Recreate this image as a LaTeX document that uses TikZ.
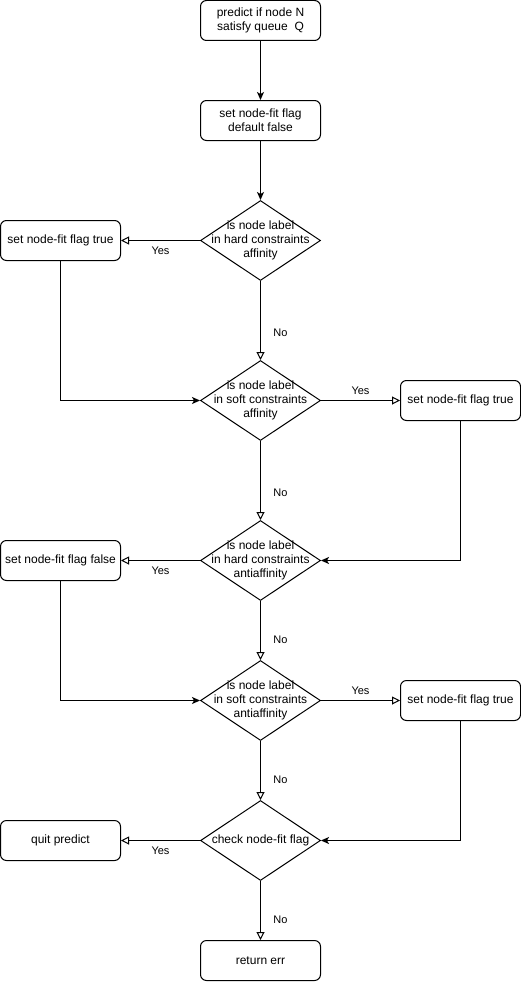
\documentclass[tikz,border=0pt]{standalone}
\usepackage{fontspec}
\setmainfont{Liberation Sans}
\usetikzlibrary{shapes.geometric,arrows.meta}
\begin{document}
\begin{tikzpicture}[x=1pt,y=-1pt, line width=1pt,
 box/.style={draw, rounded corners=6pt, minimum width=120pt, minimum height=40pt, inner sep=0pt, align=center, font=\fontsize{12}{14}\selectfont},
 dia/.style={draw, diamond, minimum width=120pt, minimum height=80pt, inner sep=0pt},
 dtext/.style={align=center, font=\fontsize{12}{14}\selectfont, inner sep=0pt},
 lbl/.style={font=\fontsize{11}{13}\selectfont, inner sep=0pt},
 fa/.style={-{Stealth[length=8pt,width=7pt,inset=2pt]}},
 oa/.style={-{Triangle[open,length=8pt,width=8pt,fill=white]}}]
\useasboundingbox (0,0) rectangle (521,982);

\node[box] (n1) at (260.5,20.5) {predict if node N\\satisfy queue~~Q};
\node[box] (n2) at (260.5,120.5) {set node-fit flag\\default false};

\node[dia] (d1) at (260.5,240.5) {};
\node[dtext] (t1) at (260.5,240.5) {is node label\\in hard constraints\\affinity};
\node[box] (l1) at (60.5,240.5) {set node-fit flag true};

\node[dia] (d2) at (260.5,400.5) {};
\node[dtext] (t2) at (260.5,400.5) {is node label\\in soft constraints\\affinity};
\node[box] (r2) at (460.5,400.5) {set node-fit flag true};

\node[dia] (d3) at (260.5,560.5) {};
\node[dtext] (t3) at (260.5,560.5) {is node label\\in hard constraints\\antiaffinity};
\node[box] (l3) at (60.5,560.5) {set node-fit flag false};

\node[dia] (d4) at (260.5,700.5) {};
\node[dtext] (t4) at (260.5,700.5) {is node label\\in soft constraints\\antiaffinity};
\node[box] (r4) at (460.5,700.5) {set node-fit flag true};

\node[dia] (d5) at (260.5,840.5) {};
\node[dtext] (t5) at (260.5,840.5) {check node-fit flag};
\node[box] (l5) at (60.5,840.5) {quit predict};

\node[box] (n6) at (260.5,960.5) {return err};

\draw[fa] (n1) -- (n2);
\draw[fa] (n2) -- (d1.north);

\draw[oa] (d1.west) -- (l1.east) node[lbl, midway, yshift=-10pt] {Yes};
\draw[oa] (d1.south) -- (d2.north) node[lbl, pos=0.66, xshift=20pt] {No};
\draw[oa] (d2.east) -- (r2.west) node[lbl, midway, yshift=10pt] {Yes};
\draw[oa] (d2.south) -- (d3.north) node[lbl, pos=0.66, xshift=20pt] {No};
\draw[oa] (d3.west) -- (l3.east) node[lbl, midway, yshift=-10pt] {Yes};
\draw[oa] (d3.south) -- (d4.north) node[lbl, pos=0.66, xshift=20pt] {No};
\draw[oa] (d4.east) -- (r4.west) node[lbl, midway, yshift=10pt] {Yes};
\draw[oa] (d4.south) -- (d5.north) node[lbl, pos=0.66, xshift=20pt] {No};
\draw[oa] (d5.west) -- (l5.east) node[lbl, midway, yshift=-10pt] {Yes};
\draw[oa] (d5.south) -- (n6.north) node[lbl, pos=0.66, xshift=20pt] {No};

\draw[fa] (l1.south) |- (d2.west);
\draw[fa] (r2.south) |- (d3.east);
\draw[fa] (l3.south) |- (d4.west);
\draw[fa] (r4.south) |- (d5.east);
\end{tikzpicture}
\end{document}
